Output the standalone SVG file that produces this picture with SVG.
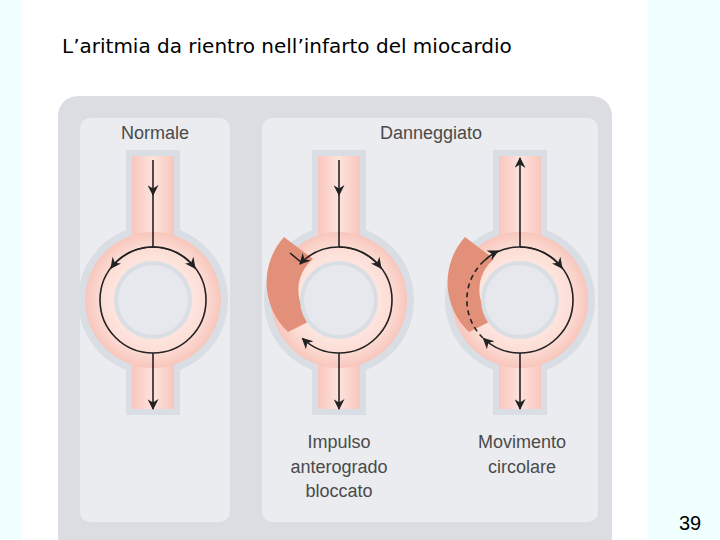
<svg xmlns="http://www.w3.org/2000/svg" width="720" height="540" viewBox="0 0 720 540">
<defs>
<marker id="ah" viewBox="0 0 10 10" refX="9" refY="5" markerWidth="12" markerHeight="11" orient="auto" markerUnits="userSpaceOnUse"><path d="M0,0 L10,5 L0,10 L3,5 Z" fill="#222"/></marker>
<radialGradient id="rg"><stop offset="0.55" stop-color="#fde6e0"/><stop offset="0.75" stop-color="#fcded6"/><stop offset="1" stop-color="#f8c6bc"/></radialGradient>
<linearGradient id="sg"><stop offset="0" stop-color="#f8c6bc"/><stop offset="0.5" stop-color="#fde3dd"/><stop offset="1" stop-color="#f8c6bc"/></linearGradient>
</defs>
<style>
.t{font-family:"Liberation Sans",Arial,sans-serif;fill:#4a4a4a;font-size:18px;text-anchor:middle}
.ln{fill:none;stroke:#222;stroke-width:1.6}
.halo{fill:#d9dde4}
.hole{fill:#e6e8ed}
</style>
<rect width="720" height="540" fill="#fff"/>
<rect x="0" y="0" width="22" height="540" fill="#f0ffff"/>
<rect x="648" y="0" width="72" height="540" fill="#f0ffff"/>
<text x="62" y="53" font-family="'DejaVu Sans',sans-serif" font-size="20" fill="#000">L’aritmia da rientro nell’infarto del miocardio</text>
<rect x="58" y="96" width="554" height="460" rx="20" fill="#dcdde2"/>
<rect x="80" y="118" width="150" height="404" rx="10" fill="#ebecf0"/>
<rect x="262" y="118" width="336" height="404" rx="10" fill="#ebecf0"/>
<text class="t" x="155" y="139">Normale</text>
<text class="t" x="431" y="139">Danneggiato</text>

<g id="normale">
<rect x="126" y="150" width="54" height="265" class="halo"/><circle cx="153" cy="300" r="75" class="halo"/>
<rect x="132" y="156" width="42" height="253" fill="url(#sg)"/>
<circle cx="153" cy="300" r="68" fill="url(#rg)"/>
<circle cx="153" cy="300" r="39" fill="#d9dde4"/><circle cx="153" cy="300" r="35" class="hole"/>
</g>
<g id="bloccato">
<rect x="312" y="150" width="54" height="265" class="halo"/><circle cx="339" cy="300" r="75" class="halo"/>
<rect x="318" y="156" width="42" height="253" fill="url(#sg)"/>
<circle cx="339" cy="300" r="68" fill="url(#rg)"/>
<path d="M284,237 L313,259 A40,40 0 0 0 312,320 L288,332 A68,68 0 0 1 284,237 Z" fill="#e29079"/>
<circle cx="339" cy="300" r="39" fill="#d9dde4"/><circle cx="339" cy="300" r="35" class="hole"/>
<text class="t" x="339" y="448">Impulso</text><text class="t" x="339" y="473">anterogrado</text><text class="t" x="339" y="497">bloccato</text>
</g>
<g id="circolare">
<rect x="493" y="150" width="54" height="265" class="halo"/><circle cx="520" cy="300" r="75" class="halo"/>
<rect x="499" y="156" width="42" height="253" fill="url(#sg)"/>
<circle cx="520" cy="300" r="68" fill="url(#rg)"/>
<path d="M465,237 L494,259 A40,40 0 0 0 493,320 L469,332 A68,68 0 0 1 465,237 Z" fill="#e29079"/>
<circle cx="520" cy="300" r="39" fill="#d9dde4"/><circle cx="520" cy="300" r="35" class="hole"/>
<text class="t" x="522" y="448">Movimento</text><text class="t" x="522" y="473">circolare</text>
</g>

<g id="connectors">
<line class="ln" x1="153" y1="160" x2="153" y2="195" marker-end="url(#ah)"/>
<line class="ln" x1="153" y1="190" x2="153" y2="247"/>
<path class="ln" d="M153,247 A53,53 0 0 1 195,268" marker-end="url(#ah)"/>
<path class="ln" d="M153,247 A53,53 0 0 0 111,268" marker-end="url(#ah)"/>
<circle class="ln" cx="153" cy="300" r="53"/>
<line class="ln" x1="153" y1="353" x2="153" y2="409" marker-end="url(#ah)"/>

<line class="ln" x1="339" y1="160" x2="339" y2="195" marker-end="url(#ah)"/>
<line class="ln" x1="339" y1="190" x2="339" y2="247"/>
<path class="ln" d="M339,247 A53,53 0 0 1 381,268" marker-end="url(#ah)"/>
<path class="ln" d="M339,247 A53,53 0 0 1 339,353"/>
<path class="ln" d="M339,247 A53,53 0 0 0 300,264" marker-end="url(#ah)"/>
<line class="ln" x1="290" y1="253" x2="302" y2="263"/>
<path class="ln" d="M339,353 A53,53 0 0 1 302.5,338.5" marker-end="url(#ah)"/>
<line class="ln" x1="339" y1="353" x2="339" y2="409" marker-end="url(#ah)"/>

<line class="ln" x1="520" y1="247" x2="520" y2="158" marker-end="url(#ah)"/>
<path class="ln" d="M520,247 A53,53 0 0 1 562,268" marker-end="url(#ah)"/>
<path class="ln" d="M520,247 A53,53 0 0 1 520,353"/>
<path class="ln" d="M520,353 A53,53 0 0 1 483.5,338.5" marker-end="url(#ah)"/>
<path class="ln" d="M483,338 A53,53 0 0 1 485,260" stroke-dasharray="5,4"/>
<path class="ln" d="M484,261 A53,53 0 0 1 498,251" marker-end="url(#ah)"/>
<path class="ln" d="M497,252 A53,53 0 0 1 520,247"/>
<line class="ln" x1="520" y1="353" x2="520" y2="409" marker-end="url(#ah)"/>
</g>
<text x="690" y="530" font-family="'Liberation Sans',Arial,sans-serif" font-size="20" fill="#000" text-anchor="middle">39</text>
</svg>
